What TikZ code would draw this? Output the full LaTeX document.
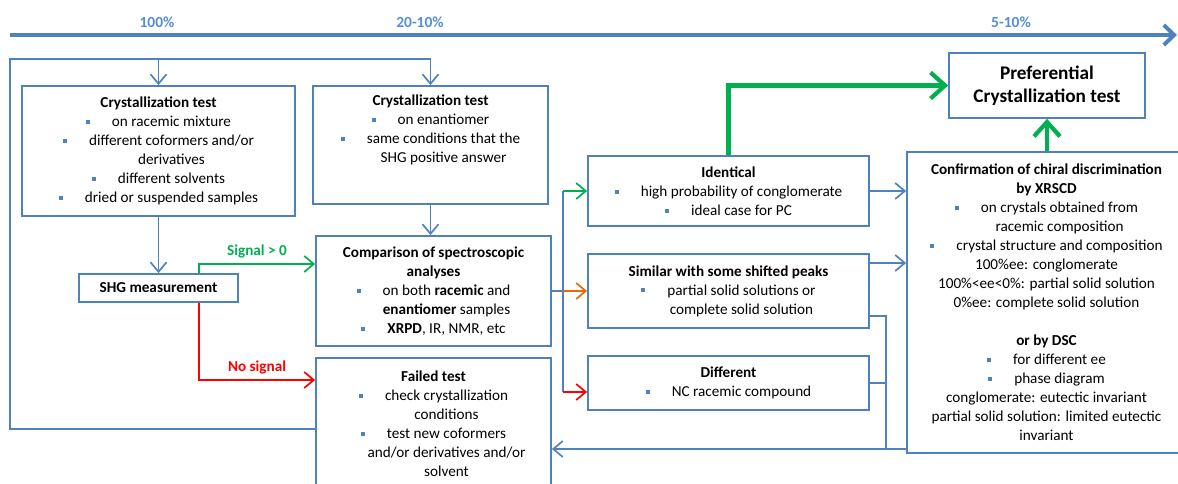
\documentclass[tikz,border=0pt]{standalone}
\usepackage{fontspec}
\setmainfont{Carlito}
\usetikzlibrary{arrows.meta,calc,positioning}
\definecolor{flowblue}{HTML}{4F81BD}
\definecolor{labelblue}{HTML}{558ED5}
\definecolor{flowgreen}{HTML}{00B050}
\definecolor{floworange}{HTML}{E46C0A}
\definecolor{flowred}{HTML}{FF0000}
\newcommand{\bul}{\textcolor{flowblue}{\rule[0.18em]{0.1cm}{0.1cm}}\hspace{0.55cm}}
\newcommand{\cont}{\phantom{\bul}}

\begin{document}
\begin{tikzpicture}[
  x=0.025cm,y=-0.025cm,
  font=\fontsize{10.8}{13.5}\selectfont,
  box/.style={draw=flowblue,line width=1.2pt,align=center,inner sep=0pt},
  link/.style={line width=1.2pt,flowblue},
  flow/.style={link,-{Straight Barb[length=2.4mm,width=4mm]}},
  yes/.style={line width=1.2pt,flowgreen,-{Straight Barb[length=2.4mm,width=4mm]}},
  maybe/.style={line width=1.2pt,floworange,-{Straight Barb[length=2.4mm,width=4mm]}},
  no/.style={line width=1.2pt,flowred,-{Straight Barb[length=2.4mm,width=4mm]}},
  success/.style={line width=3pt,flowgreen,-{Straight Barb[length=3.6mm,width=6.5mm]}},
  stage/.style={font=\fontsize{11}{13}\selectfont\bfseries,text=labelblue}
]
  \useasboundingbox (0,0) rectangle (1178,484);

  % time line
  \coordinate (tstart) at (10,35);
  \coordinate (tend) at (1177,35);
  \draw[line width=2.8pt,flowblue,-{Straight Barb[length=2.6mm,width=5mm]}] (tstart) -- (tend);
  \node[stage] (st100) at (157,22) {100\%};
  \node[stage] (st20) at (420,22) {20-10\%};
  \node[stage] (st5) at (1011,22) {5-10\%};

  % boxes
  \node[box,minimum width=6.825cm,minimum height=3.25cm] (crysrac) at (158.5,151)
    {\textbf{Crystallization test}\\ \bul on racemic mixture\\ \bul different coformers and/or\\ \cont derivatives\\
     \bul different solvents\\ \bul dried or suspended samples};
  \node[box,minimum width=5.875cm,minimum height=2.95cm,text depth=0.8cm] (crysenan) at (430.5,145)
    {\textbf{Crystallization test}\\ \bul on enantiomer\\ \bul same conditions that the\\ \cont SHG positive answer};
  \node[box,minimum width=3.975cm,minimum height=0.7cm] (shg) at (158.5,288) {\textbf{SHG measurement}};
  \node[box,minimum width=5.875cm,minimum height=2.75cm] (compar) at (433.5,291)
    {\textbf{Comparison of spectroscopic}\\ \textbf{analyses}\\ \bul on both \textbf{racemic} and\\
     \cont\textbf{enantiomer} samples\\ \bul \textbf{XRPD}, IR, NMR, etc};
  \node[box,minimum width=5.875cm,minimum height=3.3cm] (failed) at (433.5,424)
    {\textbf{Failed test}\\ \bul check crystallization\\ \cont conditions\\ \bul test new coformers\\
     \cont and/or derivatives and/or\\ \cont solvent};
  \node[box,minimum width=7.025cm,minimum height=1.75cm] (ident) at (728.5,191)
    {\textbf{Identical}\\ \bul high probability of conglomerate\\ \bul ideal case for PC};
  \node[box,minimum width=7.025cm,minimum height=1.85cm] (similar) at (728.5,291)
    {\textbf{Similar with some shifted peaks}\\ \bul partial solid solutions or\\ \cont complete solid solution};
  \node[box,minimum width=7.025cm,minimum height=1.35cm] (differ) at (728.5,383)
    {\textbf{Different}\\ \bul NC racemic compound};
  \node[box,minimum width=4.9cm,minimum height=1.625cm,font=\fontsize{13.7}{16.5}\selectfont\bfseries] (prefc) at (1047,85.5)
    {Preferential\\ Crystallization test};
  \node[box,minimum width=6.975cm,minimum height=7.525cm] (confirm) at (1046.5,302.5)
    {\textbf{Confirmation of chiral discrimination}\\ \textbf{by XRSCD}\\ \bul on crystals obtained from\\
     \cont racemic composition\\ \bul crystal structure and composition\\ 100\%ee: conglomerate\\
     100\%<ee<0\%: partial solid solution\\ 0\%ee: complete solid solution\\[13.5pt]
     \textbf{or by DSC}\\ \bul for different ee\\ \bul phase diagram\\ conglomerate: eutectic invariant\\
     partial solid solution: limited eutectic\\ invariant};

  % loop back from the failed test
  \coordinate (loopbl) at (10,429);
  \coordinate (looptl) at (10,59);
  \draw[flow] (failed.west |- loopbl) -- (loopbl) -- (looptl) -| (crysenan.north);
  \draw[flow] (crysrac.north |- looptl) -- (crysrac.north);

  \draw[flow] (crysrac.south) -- (shg.north);
  \draw[flow] (crysenan.south) -- (crysenan.south |- compar.north);
  \draw[yes] ([xshift=1.01cm]shg.north) |- node[pos=0.75,above,text=flowgreen,font=\fontsize{10.8}{13}\selectfont\bfseries]{Signal > 0}
    ([yshift=0.675cm]compar.west);
  \draw[no] ([xshift=1.01cm]shg.south) |- node[pos=0.75,above,text=flowred,font=\fontsize{10.8}{13}\selectfont\bfseries]{No signal}
    (failed.west |- 0,380);

  % comparison outcomes
  \coordinate (split) at (563,291);
  \draw[link] (compar.east) -- (split);
  \draw[link] (split |- ident.west) -- (split |- 0,392);
  \draw[yes] (split |- ident.west) -- (ident.west);
  \draw[maybe] (split) -- (similar.west);
  \draw[no] (split |- 0,392) -- ([yshift=-0.225cm]differ.west);

  \draw[flow] (ident.east) -- (ident.east -| confirm.west);
  \draw[flow] ([yshift=0.7cm]similar.east) -- ([yshift=0.7cm]similar.east -| confirm.west);

  % back to the failed test
  \coordinate (ret) at (886,449);
  \draw[link] ([yshift=-0.625cm]similar.east) -| (ret);
  \draw[link] (differ.east) -| (ret);
  \draw[flow] (confirm.west |- ret) -- (failed.east |- ret);

  \draw[success] (ident.north) |- (prefc.west);
  \draw[success] (prefc.south |- confirm.north) -- (prefc.south);
\end{tikzpicture}
\end{document}
